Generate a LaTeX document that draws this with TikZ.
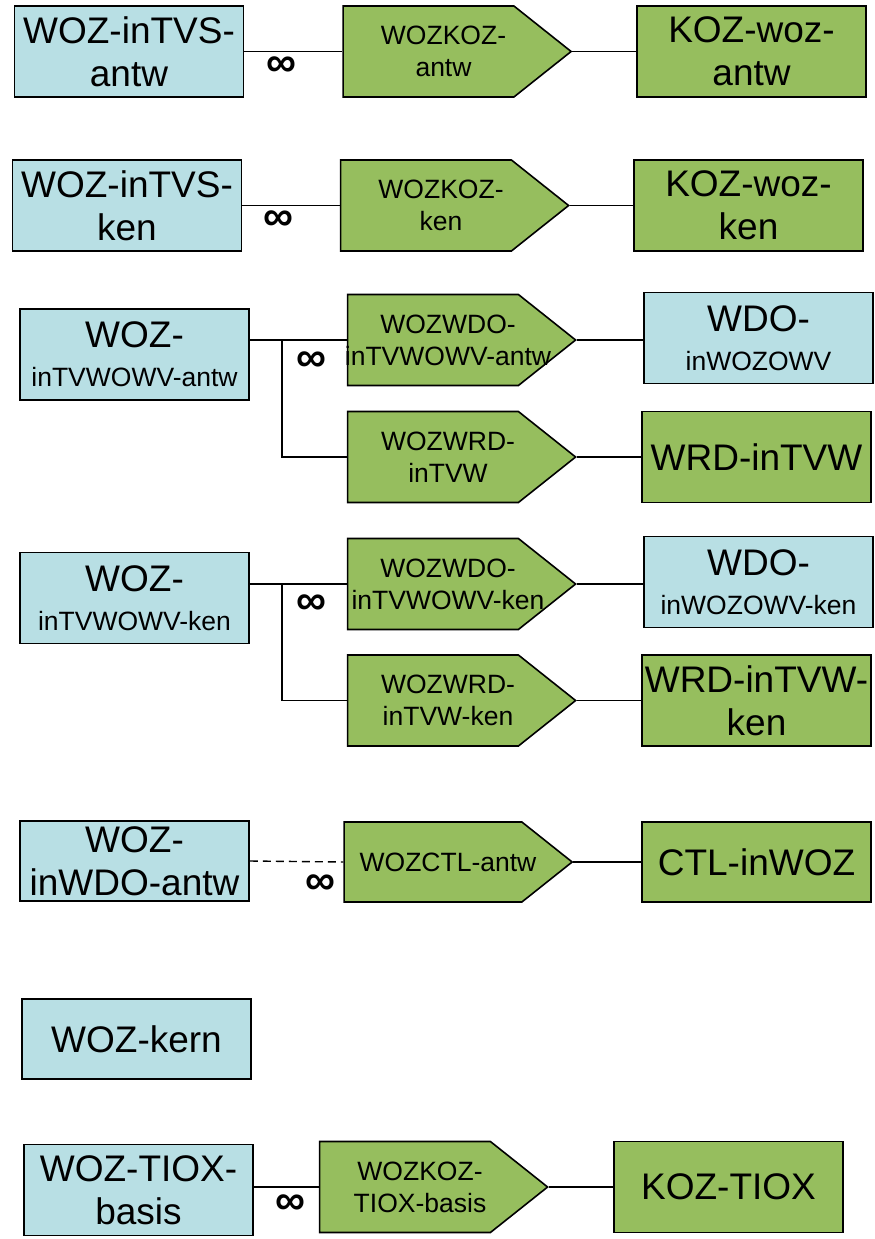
\documentclass[tikz,border=0pt]{standalone}
\usepackage{fontspec}
\setmainfont{Liberation Sans}
\usetikzlibrary{shapes.symbols, calc}
\definecolor{boxblue}{HTML}{B8DFE4}
\definecolor{boxgreen}{HTML}{96BE5E}
\newcommand{\bigtxt}{\fontsize{37}{43}\selectfont}
\newcommand{\smalltxt}{\fontsize{26.5}{32}\selectfont}
% tekst in de pijl iets naar rechts, mag over de rand lopen
\newcommand{\rl}[1]{\makebox[150pt]{\hspace{30pt}#1}}
\tikzset{
  tab/.style={draw, line width=1.6pt, fill=boxblue, minimum width=229pt, minimum height=91pt, inner sep=0pt, align=center, font=\bigtxt},
  ref/.style={tab, fill=boxgreen},
  rel/.style={signal, signal to=east, signal pointer angle=77, draw, line width=1.6pt, fill=boxgreen, minimum width=228pt, minimum height=91pt, inner sep=0pt, align=center, font=\smalltxt},
  inf/.style={font=\bfseries\fontsize{42}{42}\selectfont},
  lnk/.style={line width=1.4pt}
}
\begin{document}
\begin{tikzpicture}[x=1pt, y=-1pt]
  \useasboundingbox (0,0) rectangle (875,1239);
  % rij 1
  \node[tab] (antw1) at (129,51.5) {WOZ-inTVS-\\antw};
  \node[rel] (rel1) at (428.5,51.5) {\rl{WOZKOZ-}\\\rl{antw}};
  \node[ref] (koz1) at (751.5,51.5) {KOZ-woz-\\antw};
  \draw[lnk] (antw1.east) -- (rel1.west);
  \draw[lnk] (rel1.east) -- (koz1.west);
  \node[inf] (m1) at (281,67) {∞};
  % rij 2
  \node[tab] (ken2) at (127,205.5) {WOZ-inTVS-\\ken};
  \node[rel] (rel2) at (426,205.5) {\rl{WOZKOZ-}\\\rl{ken}};
  \node[ref] (koz2) at (748.5,205.5) {KOZ-woz-\\ken};
  \draw[lnk] (ken2.east) -- (rel2.west);
  \draw[lnk] (rel2.east) -- (koz2.west);
  \node[inf] (m2) at (278,221) {∞};
  % rij 3
  \node[tab] (antw3) at (134.5,354.5) {WOZ-\\[-4pt]{\smalltxt inTVWOWV-antw}};
  \node[rel] (rel3a) at (433,340) {\rl{WOZWDO-}\\\rl{inTVWOWV-antw}};
  \node[tab] (wdo3) at (758.5,338) {WDO-\\[-4pt]{\smalltxt inWOZOWV}};
  \node[rel] (rel3b) at (433,457) {\rl{WOZWRD-}\\\rl{inTVW}};
  \node[ref] (wrd3) at (756.5,457) {WRD-inTVW};
  \coordinate (j3) at (282,340);
  \draw[lnk] (rel3a.west -| antw3.east) -- (rel3a.west);
  \draw[lnk] (j3) |- (rel3b.west);
  \draw[lnk] (rel3a.east) -- (wdo3.west |- rel3a.east);
  \draw[lnk] (rel3b.east) -- (wrd3.west |- rel3b.east);
  \node[inf] (m3) at (311,362) {∞};
  % rij 4
  \node[tab] (ken4) at (134.5,598) {WOZ-\\[-4pt]{\smalltxt inTVWOWV-ken}};
  \node[rel] (rel4a) at (433,584) {\rl{WOZWDO-}\\\rl{inTVWOWV-ken}};
  \node[tab] (wdo4) at (758.5,582) {WDO-\\[-4pt]{\smalltxt inWOZOWV-ken}};
  \node[rel] (rel4b) at (433,700.5) {\rl{WOZWRD-}\\\rl{inTVW-ken}};
  \node[ref] (wrd4) at (756.5,700.5) {WRD-inTVW-\\ken};
  \coordinate (j4) at (282,584);
  \draw[lnk] (rel4a.west -| ken4.east) -- (rel4a.west);
  \draw[lnk] (j4) |- (rel4b.west);
  \draw[lnk] (rel4a.east) -- (wdo4.west |- rel4a.east);
  \draw[lnk] (rel4b.east) -- (wrd4.west |- rel4b.east);
  \node[inf] (m4) at (311,605) {∞};
  % rij 5
  \node[tab, minimum height=80pt] (antw5) at (134.5,861) {WOZ-\\inWDO-antw};
  \node[rel, minimum height=80pt] (rel5) at (433,862) {\rl{WOZCTL-antw}};
  \node[ref, minimum height=80pt] (ctl5) at (756.5,862) {CTL-inWOZ};
  \draw[lnk, dash pattern=on 8pt off 5pt] (antw5.east) -- (rel5.west);
  \draw[lnk] (rel5.east) -- (ctl5.west);
  \node[inf] (m5) at (320,885) {∞};
  % kern
  \node[tab, minimum height=80pt] (kern) at (136.5,1039) {WOZ-kern};
  % rij 7
  \node[tab] (tiox) at (138.5,1190) {WOZ-TIOX-\\basis};
  \node[rel] (rel7) at (405,1187) {\rl{WOZKOZ-}\\\rl{TIOX-basis}};
  \node[ref] (koz7) at (728.5,1187) {KOZ-TIOX};
  \draw[lnk] (tiox.east |- rel7.west) -- (rel7.west);
  \draw[lnk] (rel7.east) -- (koz7.west);
  \node[inf] (m7) at (290,1205) {∞};
\end{tikzpicture}
\end{document}
